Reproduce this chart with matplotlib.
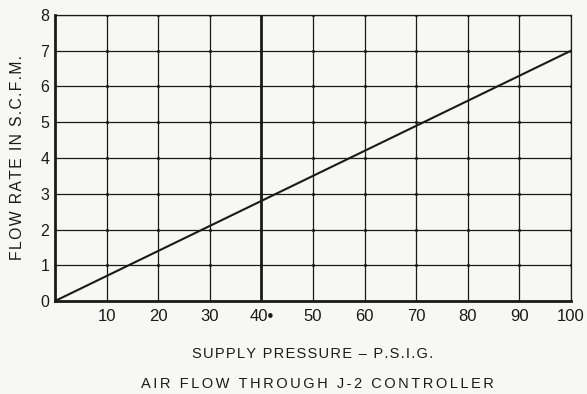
import numpy as np
import matplotlib
matplotlib.use("Agg")
import matplotlib.pyplot as plt

plt.rcParams['font.family'] = ['Liberation Sans', 'DejaVu Sans']

# supply pressure (psig) vs air flow (scfm) through the J-2 controller
pressure = [0, 10, 20, 30, 40, 50, 60, 70, 80, 90, 100]
flow = [0, 0.7, 1.4, 2.1, 2.8, 3.5, 4.2, 4.9, 5.6, 6.3, 7.0]

x_ticks = [10, 20, 30, 40, 50, 60, 70, 80, 90, 100]
x_tick_labels = ['10', '20', '30', '40\u2022', '50', '60', '70', '80', '90', '100']
y_ticks = [0, 1, 2, 3, 4, 5, 6, 7, 8]

ink = '#1a1a1a'
paper = '#f7f7f5'


def spaced(s, sep='\u200a'):
    # widen the lettering a little, like the old stencil captions
    return sep.join(s)


fig = plt.figure(figsize=(5.87, 3.94), dpi=100, facecolor=paper)
ax = fig.add_axes([0.0937, 0.236, 0.879, 0.726])
ax.set_facecolor(paper)

ax.set_xlim(0, 100)
ax.set_ylim(0, 8)

# grid lines with little dots where they cross
for xv in x_ticks:
    lw = 2.0 if xv == 40 else 0.9
    ax.axvline(xv, color=ink, lw=lw, zorder=1)
for yv in y_ticks[1:]:
    ax.axhline(yv, color=ink, lw=0.9, zorder=1)
gx, gy = np.meshgrid(x_ticks, y_ticks[1:])
ax.scatter(gx.ravel(), gy.ravel(), s=5, color=ink, zorder=2, linewidths=0)

ax.plot(pressure, flow, color=ink, lw=1.5, zorder=3)

for side in ['top', 'right']:
    ax.spines[side].set_linewidth(0.9)
    ax.spines[side].set_color(ink)
for side in ['left', 'bottom']:
    ax.spines[side].set_linewidth(2.0)
    ax.spines[side].set_color(ink)

ax.set_xticks(x_ticks)
ax.set_xticklabels(x_tick_labels)
ax.set_yticks(y_ticks)
ax.tick_params(length=0, colors=ink)
ax.tick_params(axis='x', pad=6, labelsize=12)
ax.tick_params(axis='y', pad=4, labelsize=11.5)

ax.set_ylabel(spaced('FLOW RATE IN S.C.F.M.'), fontsize=11.3, color=ink, labelpad=11)
fig.text(0.533, 0.102, spaced('SUPPLY PRESSURE \u2013 P.S.I.G.'), fontsize=10.5,
         color=ink, ha='center', va='center')
fig.text(0.54, 0.026, spaced('AIR FLOW THROUGH J-2 CONTROLLER', '\u200a\u200a'),
         fontsize=10.5, color=ink, ha='center', va='center')

fig.savefig('out.png', dpi=100, facecolor=paper)
